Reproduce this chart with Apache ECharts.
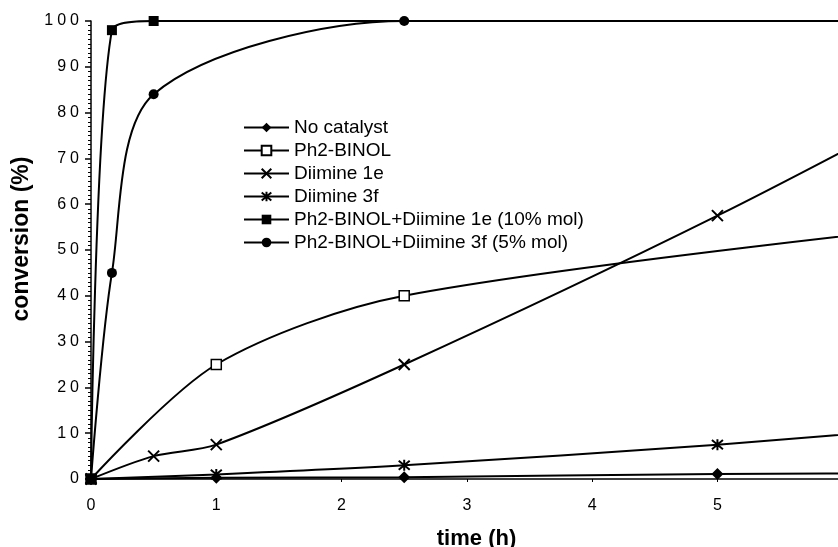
<!DOCTYPE html>
<html>
<head>
<meta charset="utf-8">
<script src="https://cdn.jsdelivr.net/npm/echarts@6/dist/echarts.min.js"></script>
<style>
html,body{margin:0;padding:0;background:#fff;}
#chart{width:838px;height:547px;}
</style>
</head>
<body>
<div id="chart"></div>
<script>
// ---- data ----
const seriesNames = [
  'No catalyst',
  'Ph2-BINOL',
  'Diimine 1e',
  'Diimine 3f',
  'Ph2-BINOL+Diimine 1e (10% mol)',
  'Ph2-BINOL+Diimine 3f (5% mol)'
];
const noCatalystT = [0, 1, 2.5, 5, 7];
const noCatalystY = [0, 0.3, 0.4, 1.1, 1.2];
const ph2BinolT = [0, 1, 2.5, 7];
const ph2BinolY = [0, 25, 40, 56];
const diimine1eT = [0, 0.5, 1, 2.5, 5, 7];
const diimine1eY = [0, 5, 7.5, 25, 57.5, 86];
const diimine3fT = [0, 1, 2.5, 5, 7];
const diimine3fY = [0, 1, 3, 7.5, 12];
const combo1eT = [0, 0.167, 0.5, 7];
const combo1eY = [0, 98, 100, 100];
const combo3fT = [0, 0.167, 0.5, 2.5, 7];
const combo3fY = [0, 45, 84, 100, 100];
const xTickLabels = ['0', '1', '2', '3', '4', '5', '6', '7'];
const yTickLabels = ['0', '10', '20', '30', '40', '50', '60', '70', '80', '90', '100'];

function pairs(t, y) { return t.map((v, i) => [v, y[i]]); }

const FONT = "'Liberation Sans', Arial, Helvetica, sans-serif";
const crossPath = 'path://M0,0L10,10M10,0L0,10';
const starPath = 'path://M0,0L10,10M10,0L0,10M5,-1L5,11';

function mkSeries(name, t, y, symbol, size, itemStyle) {
  return {
    name: name,
    type: 'line',
    data: pairs(t, y),
    smooth: 0.3,
    symbol: symbol,
    symbolSize: size,
    showAllSymbol: true,
    clip: true,
    lineStyle: { color: '#000', width: 2 },
    itemStyle: itemStyle,
    emphasis: { disabled: true }
  };
}

const chart = echarts.init(document.getElementById('chart'), null, { renderer: 'canvas' });
chart.setOption({
  animation: false,
  backgroundColor: '#fff',
  grid: { left: 91, top: 21, bottom: 68, right: -130, outerBoundsMode: 'none', containLabel: false },
  legend: {
    orient: 'vertical',
    left: 243,
    top: 118,
    padding: 0,
    itemWidth: 45,
    itemHeight: 12,
    itemGap: 4,
    data: seriesNames,
    textStyle: { fontFamily: FONT, fontSize: 19, color: '#000' }
  },
  xAxis: {
    type: 'value',
    min: 0,
    max: 7,
    interval: 1,
    name: 'time (h)',
    nameLocation: 'middle',
    nameGap: 49,
    nameTextStyle: { fontFamily: FONT, fontSize: 22, fontWeight: 'bold', color: '#000', padding: [0, 106, 0, 0] },
    axisLine: { lineStyle: { color: '#000', width: 1.5 } },
    axisTick: { show: true, length: 3, lineStyle: { color: '#000' } },
    axisLabel: {
      margin: 19,
      fontFamily: FONT, fontSize: 16, color: '#000',
      formatter: (v) => xTickLabels[Math.round(v)] || ''
    },
    splitLine: { show: false }
  },
  yAxis: {
    type: 'value',
    min: 0,
    max: 100,
    interval: 10,
    name: 'conversion (%)',
    nameLocation: 'middle',
    nameGap: 55,
    nameRotate: 90,
    nameTextStyle: { fontFamily: FONT, fontSize: 23, fontWeight: 'bold', color: '#000', padding: [0, 0, 0, 22] },
    axisLine: { show: true, lineStyle: { color: '#000', width: 1.5 } },
    axisTick: { show: true, length: 6, lineStyle: { color: '#000', width: 1.5 } },
    minorTick: { show: true, splitNumber: 10, length: 3, lineStyle: { color: '#000', width: 1 } },
    axisLabel: {
      margin: 12,
      fontFamily: FONT, fontSize: 16, color: '#000',
      formatter: (v) => (yTickLabels[Math.round(v / 10)] || '').split('').join('\u2005')
    },
    splitLine: { show: false }
  },
  series: [
    mkSeries(seriesNames[0], noCatalystT, noCatalystY, 'diamond', 12, { color: '#000' }),
    mkSeries(seriesNames[1], ph2BinolT, ph2BinolY, 'rect', 10, { color: '#fff', borderColor: '#000', borderWidth: 1.5 }),
    mkSeries(seriesNames[2], diimine1eT, diimine1eY, crossPath, 11, { color: '#000', borderColor: '#000', borderWidth: 2 }),
    mkSeries(seriesNames[3], diimine3fT, diimine3fY, starPath, 11, { color: '#000', borderColor: '#000', borderWidth: 2 }),
    mkSeries(seriesNames[4], combo1eT, combo1eY, 'rect', 10, { color: '#000' }),
    mkSeries(seriesNames[5], combo3fT, combo3fY, 'circle', 10, { color: '#000' })
  ]
});
</script>
</body>
</html>
